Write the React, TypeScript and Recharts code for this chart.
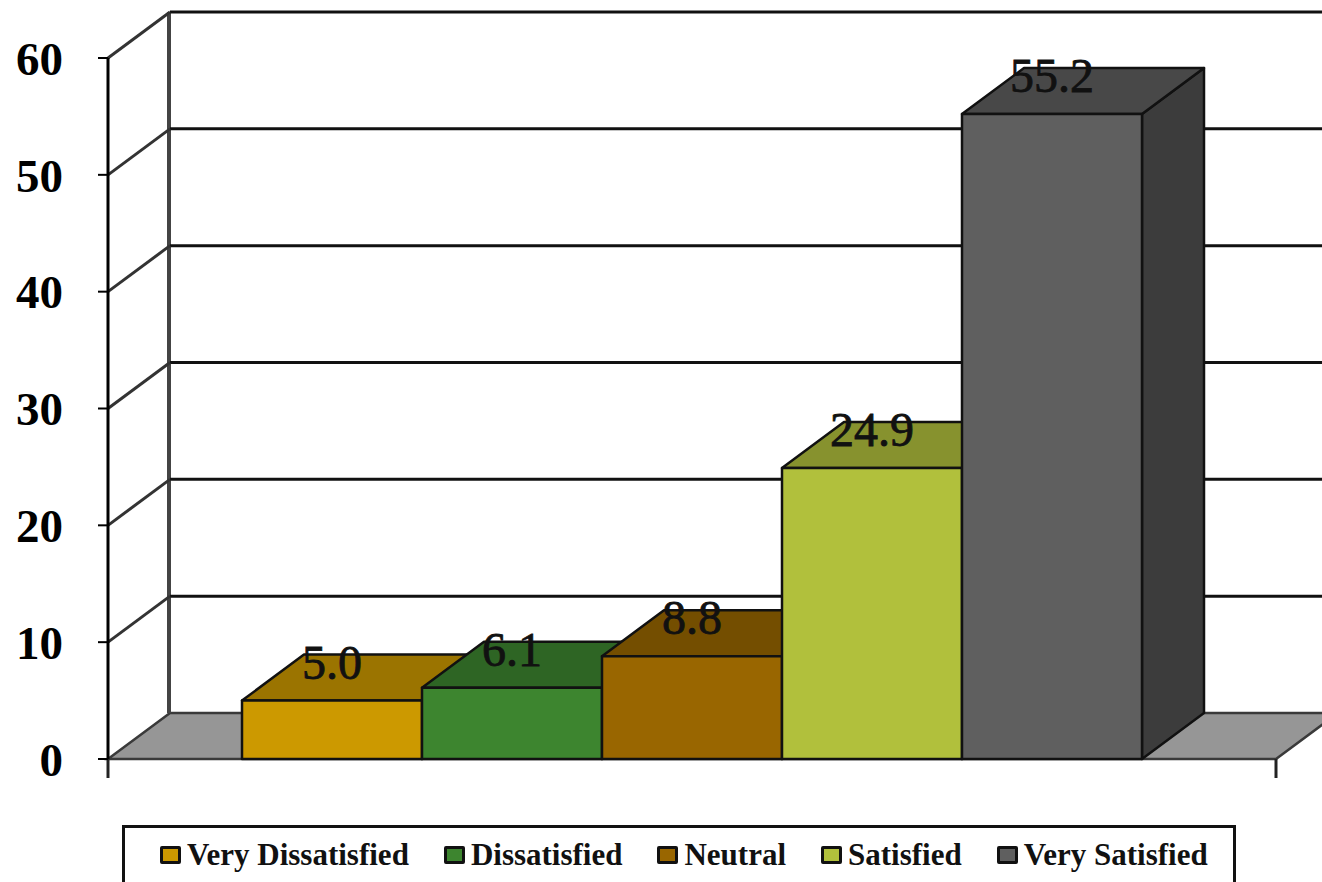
import React from "react";
import { Bar, BarChart, CartesianGrid, LabelList, Legend, XAxis, YAxis } from "recharts";

const categories = ["Satisfaction"];
const seriesNames = ["Very Dissatisfied", "Dissatisfied", "Neutral", "Satisfied", "Very Satisfied"];
const seriesValues = [5.0, 6.1, 8.8, 24.9, 55.2];
const seriesColors = ["#CC9900", "#3D852F", "#996600", "#B1C03C", "#5F5F5F"];
const yTicks = [0, 10, 20, 30, 40, 50, 60];

const rows = categories.map((category) => {
  const row: Record<string, string | number> = { category };
  seriesNames.forEach((name, i) => {
    row[name] = seriesValues[i];
  });
  return row;
});

const WIDTH = 1322;
const HEIGHT = 882;
const SERIF = "'Liberation Serif', serif";
// Perspective offset from the front plane of the chart to its back wall.
const DEPTH_X = 62;
const DEPTH_Y = 46;

const shade = (hex: string, factor: number) => {
  const channel = (start: number) =>
    Math.round(parseInt(hex.slice(start, start + 2), 16) * factor)
      .toString(16)
      .padStart(2, "0");
  return `#${channel(1)}${channel(3)}${channel(5)}`;
};

// Back wall line for a tick, its slanted return to the axis, and, at the baseline, the floor.
function WallLine(props: any) {
  const { x1, x2, y1, offset } = props;
  const bottom = offset.top + offset.height;
  const isBase = Math.abs(y1 - bottom) < 1;
  if (isBase) {
    const top = offset.top - DEPTH_Y;
    return (
      <g key="floor">
        <polygon
          points={`${x1},${y1} ${x1 + DEPTH_X},${y1 - DEPTH_Y} ${x2 + DEPTH_X},${y1 - DEPTH_Y} ${x2},${y1}`}
          fill="#969696"
          stroke="#3a3a3a"
          strokeWidth={2.5}
        />
        <line x1={x1 + DEPTH_X - 1} x2={x1 + DEPTH_X - 1} y1={top} y2={y1 - DEPTH_Y} stroke="#444" strokeWidth={4} />
        <line x1={x1} x2={x1} y1={y1} y2={y1 + 19} stroke="#222" strokeWidth={3} />
        <line x1={x2} x2={x2} y1={y1} y2={y1 + 19} stroke="#222" strokeWidth={3} />
      </g>
    );
  }
  return (
    <g key={`wall-${y1}`}>
      <line x1={x1 + DEPTH_X} x2={x2 + DEPTH_X} y1={y1 - DEPTH_Y} y2={y1 - DEPTH_Y} stroke="#111" strokeWidth={3} />
      <line x1={x1} x2={x1 + DEPTH_X} y1={y1} y2={y1 - DEPTH_Y} stroke="#333" strokeWidth={3} />
    </g>
  );
}

// Box with a front face, a lit top and a darker right side.
function Box3D(props: any) {
  const { x, y, width, height, fill } = props;
  const right = x + width;
  const base = y + height;
  const edge = { stroke: "#111", strokeWidth: 2.5, strokeLinejoin: "round" as const };
  return (
    <g>
      <polygon
        points={`${right},${y} ${right + DEPTH_X},${y - DEPTH_Y} ${right + DEPTH_X},${base - DEPTH_Y} ${right},${base}`}
        fill={shade(fill, 0.63)}
        {...edge}
      />
      <polygon
        points={`${x},${y} ${x + DEPTH_X},${y - DEPTH_Y} ${right + DEPTH_X},${y - DEPTH_Y} ${right},${y}`}
        fill={shade(fill, 0.76)}
        {...edge}
      />
      <rect x={x} y={y} width={width} height={height} fill={fill} {...edge} />
    </g>
  );
}

function LegendBox({ payload }: any) {
  return (
    <div
      style={{
        boxSizing: "border-box",
        width: 1114,
        height: 64,
        border: "3px solid #111",
        display: "flex",
        alignItems: "flex-start",
        paddingTop: 11,
        paddingLeft: 35,
        gap: 35,
        fontFamily: SERIF,
        fontWeight: 700,
        fontSize: 31,
        lineHeight: "32px",
        color: "#111",
        whiteSpace: "nowrap",
      }}
    >
      {(payload ?? []).map((entry: any) => (
        <div key={entry.value} style={{ display: "flex", alignItems: "center", gap: 6 }}>
          <span
            style={{
              boxSizing: "border-box",
              width: 21,
              height: 18,
              background: entry.color,
              border: "3px solid #111",
              borderRadius: 2,
            }}
          />
          {entry.value}
        </div>
      ))}
    </div>
  );
}

export default function App() {
  return (
    <div style={{ position: "absolute", left: 0, top: 0, width: WIDTH, height: HEIGHT, overflow: "hidden", background: "#fff" }}>
      <BarChart
        width={WIDTH}
        height={HEIGHT}
        data={rows}
        margin={{ top: 58, right: 46, bottom: 123, left: 0 }}
        barGap={0}
        barSize={180}
      >
        <CartesianGrid vertical={false} horizontal={WallLine as any} syncWithTicks />
        <XAxis dataKey="category" tick={false} tickLine={false} height={0} axisLine={{ stroke: "#000", strokeWidth: 4 }} />
        <YAxis
          width={108}
          domain={[0, 60]}
          ticks={yTicks}
          interval={0}
          tickSize={10}
          tickMargin={35}
          axisLine={{ stroke: "#000", strokeWidth: 3 }}
          tickLine={{ stroke: "#000", strokeWidth: 2 }}
          tick={{ fontFamily: SERIF, fontWeight: 700, fontSize: 47, fill: "#000" }}
        />
        <Legend
          layout="horizontal"
          verticalAlign="middle"
          align="center"
          itemSorter={null}
          content={<LegendBox />}
          wrapperStyle={{ left: 122, top: 825, width: 1114, bottom: "auto", right: "auto", margin: 0 }}
        />
        {seriesNames.map((name, i) => (
          <Bar key={name} dataKey={name} name={name} fill={seriesColors[i]} shape={<Box3D />} isAnimationActive={false}>
            <LabelList
              dataKey={name}
              position="top"
              offset={22}
              formatter={(v: number) => v.toFixed(1)}
              style={{ fontFamily: SERIF, fontSize: 48, fill: "#111", stroke: "#111", strokeWidth: 0.8 }}
            />
          </Bar>
        ))}
      </BarChart>
    </div>
  );
}
